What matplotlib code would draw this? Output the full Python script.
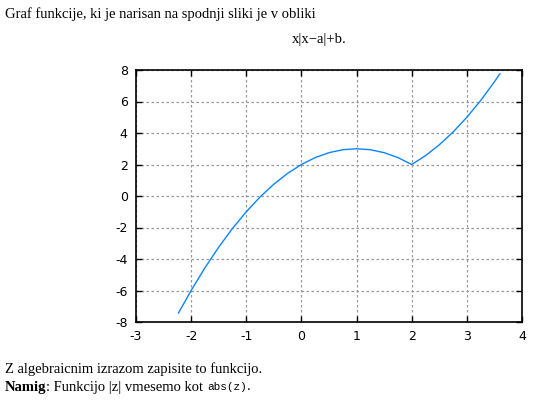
import matplotlib
matplotlib.use("Agg")
import matplotlib.pyplot as plt

plt.rcParams['axes.unicode_minus'] = False

# tocke krivulje, odcitane s slike
x_vals = [-2.23, -2.0, -1.75, -1.5, -1.25, -1.0, -0.75, -0.5, -0.25, 0.0,
          0.25, 0.5, 0.75, 1.0, 1.25, 1.5, 1.75, 2.0, 2.25, 2.5, 2.75,
          3.0, 3.25, 3.5, 3.6]
y_vals = [-7.43, -6.0, -4.56, -3.25, -2.06, -1.0, -0.06, 0.75, 1.44, 2.0,
          2.44, 2.75, 2.94, 3.0, 2.94, 2.75, 2.44, 2.0, 2.56, 3.25, 4.06,
          5.0, 6.06, 7.25, 7.76]
x_ticks = [-3, -2, -1, 0, 1, 2, 3, 4]
y_ticks = [-8, -6, -4, -2, 0, 2, 4, 6, 8]

W, H = 543, 407
fig = plt.figure(figsize=(W / 100, H / 100), dpi=100)
ax = fig.add_axes([136 / W, 1 - 322 / H, (522 - 136) / W, (322 - 70) / H])

ax.plot(x_vals, y_vals, color="#0a84ff", lw=1.0)
ax.set_xlim(-3, 4)
ax.set_ylim(-8, 8)
ax.set_xticks(x_ticks)
ax.set_yticks(y_ticks)
ax.tick_params(direction="in", top=True, right=True, length=4, width=1,
               labelsize=9, pad=6)
ax.grid(True, color="#999999", linestyle=(0, (2, 2)), lw=0.9)
for s in ax.spines.values():
    s.set_linewidth(1.2)

serif = "Liberation Serif"
fs = 10.5
fig.text(5 / W, 1 - 14 / H, "Graf funkcije, ki je narisan na spodnji sliki je v obliki",
         family=serif, fontsize=fs, va="center")
fig.text(292 / W, 1 - 39 / H, "x|x\u2212a|+b.", family=serif, fontsize=fs, va="center")
fig.text(5 / W, 1 - 369 / H, "Z algebraicnim izrazom zapisite to funkcijo.",
         family=serif, fontsize=fs, va="center")

# zadnja vrstica iz vec kosov
fig.canvas.draw()
r = fig.canvas.get_renderer()
x0 = 5
for txt, kw in [("Namig", dict(family=serif, weight="bold", fontsize=fs)),
                (": Funkcijo |z| vmesemo kot ", dict(family=serif, fontsize=fs)),
                ("abs(z)", dict(family="Liberation Mono", fontsize=8)),
                (".", dict(family=serif, fontsize=fs))]:
    t = fig.text(x0 / W, 1 - 387 / H, txt, va="center", **kw)
    x0 += t.get_window_extent(r).width

fig.savefig("out.png", dpi=100)
